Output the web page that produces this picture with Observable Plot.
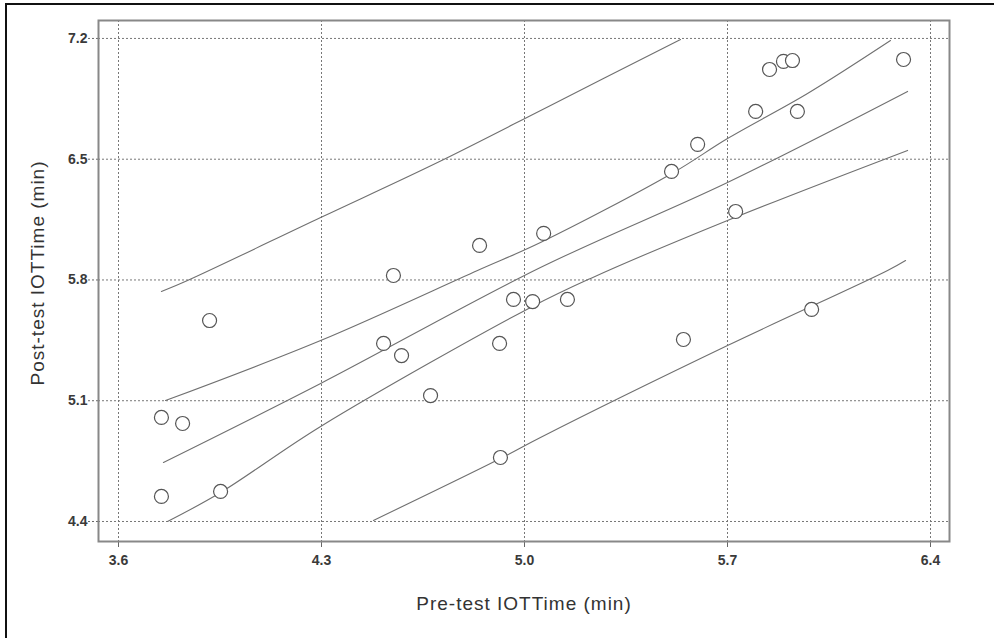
<!DOCTYPE html>
<html>
<head>
<meta charset="utf-8">
<script src="https://cdn.jsdelivr.net/npm/d3@7"></script>
<script src="https://cdn.jsdelivr.net/npm/@observablehq/plot@0.6"></script>
<style>
  html, body { margin: 0; padding: 0; background: #fff; }
  #wrap { position: relative; width: 994px; height: 638px; overflow: hidden; }
  #bt { position: absolute; left: 5px; top: 3px; width: 989px; height: 2px; background: #111; }
  #bl { position: absolute; left: 5px; top: 3px; width: 2px; height: 635px; background: #111; }
</style>
</head>
<body>
<div id="wrap"><div id="bt"></div><div id="bl"></div></div>
<script>
// Observed points: pre-test vs post-test IOT time (min)
const preTest  = [3.748, 3.748, 3.821, 3.914, 3.952, 4.514, 4.548, 4.576, 4.676, 4.845, 4.914, 4.917, 4.962, 5.028,
                  5.066, 5.148, 5.507, 5.548, 5.597, 5.728, 5.797, 5.845, 5.893, 5.924, 5.941, 5.990, 6.307];
const postTest = [4.545, 5.003, 4.968, 5.565, 4.574, 5.432, 5.826, 5.362, 5.130, 6.000, 5.432, 4.771, 5.687, 5.675,
                  6.070, 5.687, 6.429, 5.455, 6.586, 6.197, 6.777, 7.020, 7.067, 7.072, 6.777, 5.629, 7.078];

// Lines (x, y pairs)
const upperPI_x = [3.748, 3.838, 4.297, 4.700, 5.083, 5.538];
const upperPI_y = [5.733, 5.797, 6.162, 6.481, 6.806, 7.194];
const upperCI_x = [3.762, 4.297, 4.838, 5.055, 5.514, 5.700, 5.976, 6.262];
const upperCI_y = [5.101, 5.449, 5.855, 6.017, 6.423, 6.620, 6.881, 7.188];
const fit_x     = [3.755, 4.297, 5.055, 5.700, 6.321];
const fit_y     = [4.742, 5.200, 5.872, 6.365, 6.893];
const lowerCI_x = [3.769, 3.952, 4.297, 5.021, 5.228, 5.700, 6.321];
const lowerCI_y = [4.400, 4.568, 4.951, 5.641, 5.809, 6.145, 6.551];
const lowerPI_x = [4.479, 4.917, 5.055, 5.700, 6.252, 6.314];
const lowerPI_y = [4.406, 4.765, 4.887, 5.420, 5.855, 5.913];

const xTicks = [3.6, 4.3, 5.0, 5.7, 6.4];
const yTicks = [4.4, 5.1, 5.8, 6.5, 7.2];
const xTitle = "Pre-test IOTTime (min)";
const yTitle = "Post-test IOTTime (min)";

const pts = preTest.map((x, i) => ({x, y: postTest[i]}));
const mk = (xs, ys, name) => xs.map((x, i) => ({x, y: ys[i], name}));
const lines = [
  ...mk(upperPI_x, upperPI_y, "upperPI"),
  ...mk(upperCI_x, upperCI_y, "upperCI"),
  ...mk(fit_x, fit_y, "fit"),
  ...mk(lowerCI_x, lowerCI_y, "lowerCI"),
  ...mk(lowerPI_x, lowerPI_y, "lowerPI")
];

const font = "'Liberation Sans', Arial, sans-serif";
const chart = Plot.plot({
  width: 994,
  height: 638,
  marginLeft: 98,
  marginRight: 45,
  marginTop: 20,
  marginBottom: 97,
  style: {fontFamily: font, background: "transparent"},
  x: {domain: [3.531, 6.4655]},
  y: {domain: [4.284, 7.304]},
  marks: [
    Plot.gridX(xTicks, {stroke: "#777", strokeOpacity: 1, strokeDasharray: "2,2"}),
    Plot.gridY(yTicks, {stroke: "#777", strokeOpacity: 1, strokeDasharray: "2,2"}),
    Plot.axisX(xTicks, {tickSize: 6, tickPadding: 8, stroke: "#666", tickFormat: d => d.toFixed(1),
      fontSize: 14, fontWeight: "bold", fill: "#3a3a3a", label: null}),
    Plot.axisY(yTicks, {tickSize: 10, tickPadding: 1, stroke: "#666", strokeDasharray: "2,2",
      tickFormat: d => d.toFixed(1), fontSize: 14, fontWeight: "bold", fill: "#3a3a3a", label: null}),
    Plot.line(lines, {x: "x", y: "y", z: "name", stroke: "#707070", strokeWidth: 1.1, curve: "catmull-rom"}),
    Plot.dot(pts, {x: "x", y: "y", r: 7, stroke: "#555", strokeWidth: 1.2, fill: "white"}),
    Plot.frame({stroke: "#888", strokeWidth: 2}),
    Plot.text([xTitle], {frameAnchor: "bottom", dy: 62, fontSize: 19, fill: "#333", lineAnchor: "middle", textAnchor: "middle"}),
    Plot.text([yTitle], {frameAnchor: "left", dx: -61, dy: -8, rotate: -90, fontSize: 19, fill: "#333", lineAnchor: "middle", textAnchor: "middle"})
  ]
});
// slightly wider letter spacing on the axis titles, as in the reference
chart.querySelectorAll("text").forEach(t => {
  if (t.textContent === xTitle || t.textContent === yTitle) t.style.letterSpacing = "1px";
});
chart.style.position = "absolute";
chart.style.left = "0px";
chart.style.top = "0px";
document.getElementById("wrap").prepend(chart);
</script>
</body>
</html>
